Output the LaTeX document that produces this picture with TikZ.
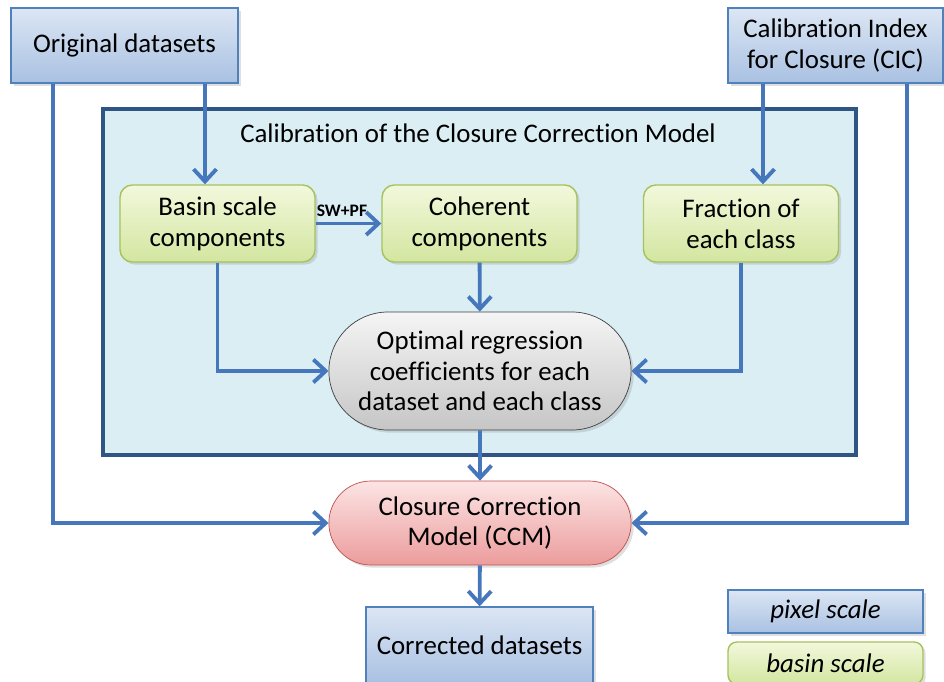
\documentclass[tikz,border=0pt]{standalone}
\usepackage{fontspec}
\setmainfont{Carlito}[Ligatures=NoCommon]
\usetikzlibrary{shapes.misc,shadows,arrows.meta}

\definecolor{pixborder}{HTML}{4F81BD}
\definecolor{pixtop}{HTML}{DCE6F4}
\definecolor{pixbot}{HTML}{A9C1E2}
\definecolor{basborder}{HTML}{A5C25C}
\definecolor{bastop}{HTML}{F2F8DC}
\definecolor{basbot}{HTML}{D3E6A0}
\definecolor{panelfill}{HTML}{DAEEF4}
\definecolor{panelborder}{HTML}{2F5586}
\definecolor{flowblue}{HTML}{4677BC}
\definecolor{ccmborder}{HTML}{C0504D}
\definecolor{ccmtop}{HTML}{FCE4E4}
\definecolor{ccmbot}{HTML}{EC9C9C}

\begin{document}
\begin{tikzpicture}[
					x=0.02cm, y=-0.02cm,
					every node/.style={font=\fontsize{15.3}{17.5}\selectfont},
					pixel/.style={draw=pixborder, thick, top color=pixtop, bottom color=pixbot, align=center,
						drop shadow={opacity=0.25, shadow xshift=1.5pt, shadow yshift=-1.5pt}},
					basin/.style={draw=basborder, thick, rounded corners=7pt, top color=bastop, bottom color=basbot,
						minimum width=3.9cm, minimum height=1.54cm, align=center,
						drop shadow={opacity=0.25, shadow xshift=1.5pt, shadow yshift=-1.5pt}},
					oval/.style={rounded rectangle, draw, align=center, minimum width=6.28cm,
						drop shadow={opacity=0.25, shadow xshift=1.5pt, shadow yshift=-1.5pt}},
					panel/.style={draw=panelborder, line width=2.2pt, fill=panelfill},
					flow/.style={draw=flowblue, line width=2.2pt, -{Straight Barb[length=7pt, width=13pt, line width=2.2pt]}}
				]
				% Marco de la figura
				\useasboundingbox (0,0) rectangle (944,682);

				% --- Abscisas de las lineas largas ---
				\coordinate (xl) at (53,0);
				\coordinate (xorig) at (205,0);
				\coordinate (xcic) at (763,0);
				\coordinate (xr) at (907,0);

				% --- Panel de calibracion ---
				\node[panel, minimum width=15.06cm, minimum height=6.92cm] (calib) at (479.5,282) {};
				\node (title) at (478,133) {Calibration of the Closure Correction Model};

				% --- Datos de entrada ---
				\node[pixel, minimum width=4.54cm, minimum height=1.5cm] (orig) at (124.5,45.5) {Original datasets};
				\node[pixel, minimum width=4.3cm, minimum height=1.5cm] (cic) at (835.5,45.5) {Calibration Index\\for Closure (CIC)};

				% --- Componentes ---
				\node[basin] (basin) at (217.5,223.5) {Basin scale\\components};
				\node[basin] (coh) at (479.5,223.5) {Coherent\\components};
				\node[basin] (frac) at (741,223.5) {Fraction of\\each class};

				% --- Coeficientes y modelo ---
				\node[oval, draw=black!75, top color=gray!8, bottom color=gray!45, minimum height=2.36cm] (coef) at (480,371)
					{Optimal regression\\coefficients for each\\dataset and each class};
				\node[oval, draw=ccmborder, top color=ccmtop, bottom color=ccmbot, minimum height=1.68cm] (ccm) at (480,523)
					{Closure Correction\\Model (CCM)};
				\node[pixel, minimum width=4.54cm, minimum height=1.52cm] (corr) at (479.5,645) {Corrected datasets};

				% --- Leyenda ---
				\node[pixel, minimum width=3.9cm, minimum height=0.86cm] (legpix) at (825.5,611.5) {\itshape pixel scale};
				\node[basin, minimum height=0.84cm, rounded corners=5pt] (legbas) at (825.5,663) {\itshape basin scale};

				% --- Conexiones ---
				\draw[flow] (orig.south -| xorig) -- (basin.north -| xorig);
				\draw[flow] (cic.south -| xcic) -- (frac.north -| xcic);
				\draw[flow] (orig.south -| xl) |- (ccm.west);
				\draw[flow] (cic.south -| xr) |- (ccm.east);
				\draw[flow] (basin) -- node[above, pos=0.4, inner sep=3pt, font=\fontsize{10}{12}\selectfont\bfseries] {SW+PF} (coh);
				\draw[flow] (basin.south) |- (coef.west);
				\draw[flow] (frac.south) |- (coef.east);
				\draw[flow] (coh) -- (coef);
				\draw[flow] (coef) -- (ccm);
				\draw[flow] (ccm) -- (corr);

			\end{tikzpicture}
\end{document}
